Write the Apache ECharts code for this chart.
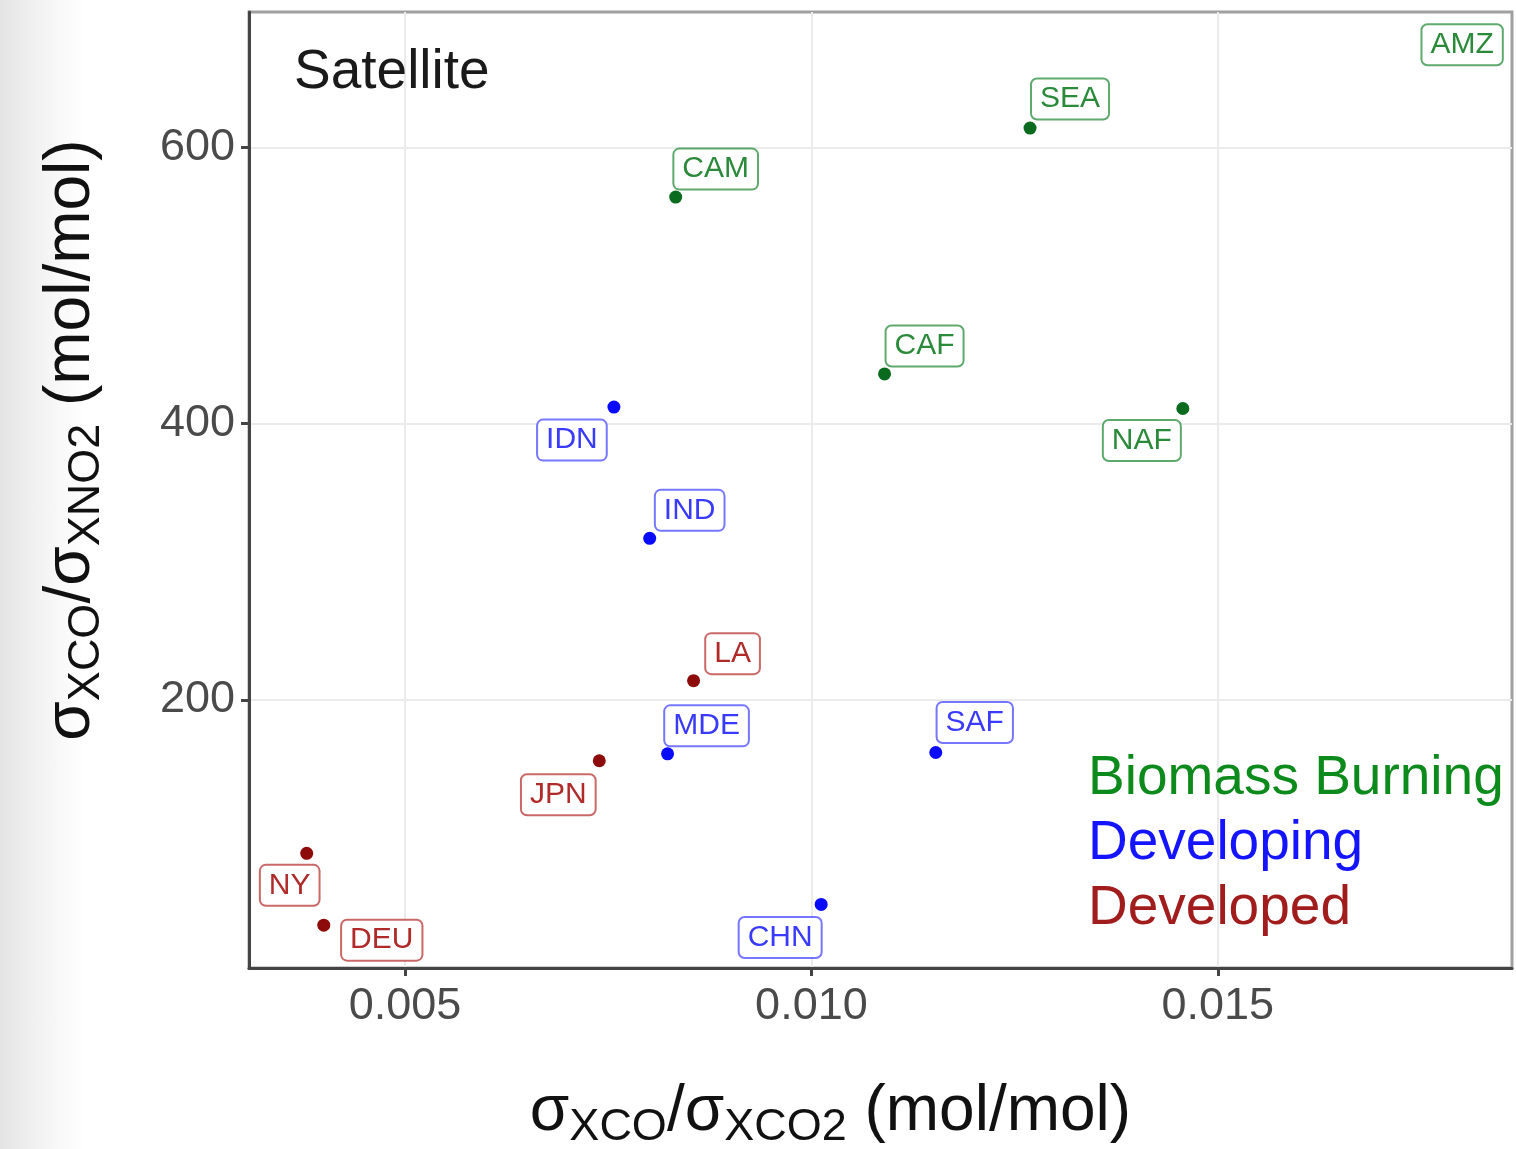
<!DOCTYPE html>
<html>
<head>
<meta charset="utf-8">
<title>Satellite σXCO/σXCO2 vs σXCO/σXNO2</title>
<script src="https://cdn.jsdelivr.net/npm/echarts@6/dist/echarts.min.js"></script>
<style>
  html, body { margin: 0; padding: 0; width: 1516px; height: 1149px; overflow: hidden;
    background: linear-gradient(to right, #e4e4e4 0px, #efefef 30px, #f7f7f7 55px, #ffffff 85px); }
  #chart { width: 1516px; height: 1149px; }
</style>
</head>
<body>
<div id="chart"></div>
<script>
// Region groups: σXCO/σXCO2 (x) and σXCO/σXNO2 (y), mol/mol
const biomassNames = ['AMZ', 'SEA', 'CAM', 'CAF', 'NAF'];
const biomassX     = [0.0192, 0.01269, 0.00833, 0.01090, 0.01457];
const biomassY     = [688, 614, 564, 436, 411];

const developingNames = ['IDN', 'IND', 'MDE', 'SAF', 'CHN'];
const developingX     = [0.00757, 0.00801, 0.00823, 0.01153, 0.01012];
const developingY     = [412, 317, 161, 162, 52];

const developedNames = ['LA', 'JPN', 'NY', 'DEU'];
const developedX     = [0.00855, 0.00739, 0.00379, 0.00400];
const developedY     = [214, 156, 89, 37];

const xTicks = [0.005, 0.010, 0.015];
const yTicks = [200, 400, 600];

// Where each boxed label sits relative to its point (pixels)
const labelOffset = {
  AMZ: [-97, 19], SEA: [40, -29], CAM: [40, -28], CAF: [40, -28], NAF: [-41, 32],
  IDN: [-42, 33], IND: [40, -28], MDE: [39, -28], SAF: [39, -30], CHN: [-41, 33],
  LA: [39, -27], JPN: [-41, 34], NY: [-17, 32], DEU: [58, 15]
};

const FONT = '"Liberation Sans", Arial, Helvetica, sans-serif';
const X_MIN = 0.00308, X_MAX = 0.01862;
const Y_MIN = 6, Y_MAX = 698;

function buildSeries(name, names, xs, ys, color, labelColor, borderColor) {
  return {
    name: name,
    type: 'scatter',
    clip: false,
    symbol: 'circle',
    symbolSize: 13,
    itemStyle: { color: color, opacity: 1 },
    emphasis: { disabled: true },
    data: names.map((n, i) => {
      const item = { name: n, value: [xs[i], ys[i]] };
      // a point beyond the panel keeps only its label inside the frame
      if (xs[i] > X_MAX || ys[i] > Y_MAX) item.symbolSize = 0;
      return item;
    }),
    label: {
      show: true,
      position: 'inside',
      formatter: '{b}',
      fontFamily: FONT,
      fontSize: 30,
      color: labelColor,
      backgroundColor: '#ffffff',
      borderColor: borderColor,
      borderWidth: 2,
      borderRadius: 5,
      padding: [6, 8, 3, 8]
    },
    labelLayout: function (params) {
      const off = labelOffset[names[params.dataIndex]] || [0, 0];
      return { dx: off[0], dy: off[1], hideOverlap: false };
    }
  };
}

const chart = echarts.init(document.getElementById('chart'), null, { renderer: 'canvas' });

const option = {
  backgroundColor: 'transparent',
  animation: false,
  title: {
    text: 'Satellite',
    left: 289,
    top: 40,
    textStyle: { fontFamily: FONT, fontSize: 55, fontWeight: 'normal', color: '#1a1a1a' }
  },
  legend: {
    orient: 'vertical',
    left: 1078,
    top: 745,
    icon: 'none',
    itemWidth: 0,
    itemHeight: 0,
    itemGap: 8,
    selectedMode: false,
    data: [
      { name: 'Biomass Burning', textStyle: { color: '#0c8a1c' } },
      { name: 'Developing', textStyle: { color: '#1414ff' } },
      { name: 'Developed', textStyle: { color: '#a11d1d' } }
    ],
    textStyle: { fontFamily: FONT, fontSize: 55, lineHeight: 57 }
  },
  grid: {
    left: 249, right: 4, top: 12, bottom: 181,
    outerBoundsMode: 'none',
    containLabel: false,
    show: true,
    borderColor: '#a0a0a0',
    borderWidth: 3,
    backgroundColor: '#ffffff'
  },
  xAxis: {
    type: 'value',
    min: X_MIN,
    max: X_MAX,
    name: '{m|σ}{s|XCO}{m|/σ}{s|XCO2}{m| (mol/mol)}',
    nameLocation: 'middle',
    nameGap: 106,
    nameTextStyle: {
      padding: [0, 100, 0, 0],
      rich: {
        m: { fontFamily: FONT, fontSize: 64, color: '#111111', lineHeight: 76 },
        s: { fontFamily: FONT, fontSize: 45, color: '#111111', lineHeight: 46, verticalAlign: 'bottom' }
      }
    },
    axisLine: { show: true, onZero: false, lineStyle: { color: '#444444', width: 3 } },
    axisTick: { show: true, length: 8, customValues: xTicks, lineStyle: { color: '#444444', width: 3 } },
    axisLabel: {
      customValues: xTicks,
      formatter: v => v.toFixed(3),
      fontFamily: FONT, fontSize: 45, color: '#4a4a4a', margin: 16
    },
    splitLine: { show: true, lineStyle: { color: '#ebebeb', width: 2 } }
  },
  yAxis: {
    type: 'value',
    min: Y_MIN,
    max: Y_MAX,
    name: '{m|σ}{s|XCO}{m|/σ}{s|XNO2}{m| (mol/mol)}',
    nameLocation: 'middle',
    nameRotate: 90,
    nameGap: 140,
    nameTextStyle: {
      padding: [0, 0, 0, 100],
      rich: {
        m: { fontFamily: FONT, fontSize: 64, color: '#111111', lineHeight: 76 },
        s: { fontFamily: FONT, fontSize: 45, color: '#111111', lineHeight: 46, verticalAlign: 'bottom' }
      }
    },
    axisLine: { show: true, onZero: false, lineStyle: { color: '#444444', width: 3 } },
    axisTick: { show: true, length: 8, customValues: yTicks, lineStyle: { color: '#444444', width: 3 } },
    axisLabel: {
      customValues: yTicks,
      fontFamily: FONT, fontSize: 45, color: '#4a4a4a', margin: 14
    },
    splitLine: { show: true, lineStyle: { color: '#ebebeb', width: 2 } }
  },
  series: [
    buildSeries('Biomass Burning', biomassNames, biomassX, biomassY, '#0a6b1e', '#2a8a3a', 'rgba(40,140,60,0.75)'),
    buildSeries('Developing', developingNames, developingX, developingY, '#0a0aff', '#3a3aff', 'rgba(60,60,255,0.7)'),
    buildSeries('Developed', developedNames, developedX, developedY, '#8e0b0b', '#b02a2a', 'rgba(180,40,40,0.7)')
  ]
};

chart.setOption(option);
</script>
</body>
</html>
